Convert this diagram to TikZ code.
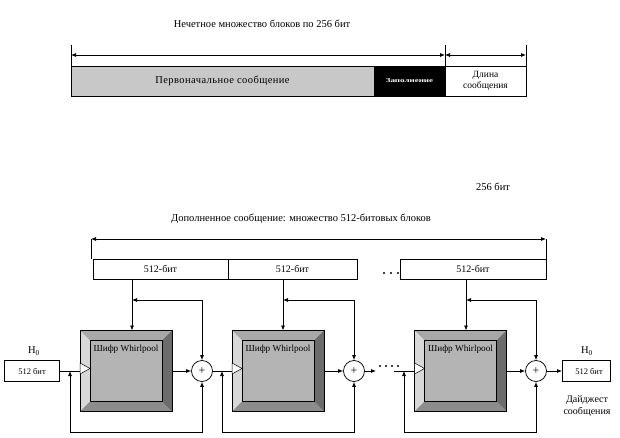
\documentclass[tikz,border=0pt]{standalone}
\usepackage{fontspec}
\setmainfont{Liberation Serif}
\usetikzlibrary{arrows.meta,calc}
\definecolor{barg}{RGB}{200,200,200}
\definecolor{wpface}{RGB}{180,180,180}
\definecolor{wptop}{RGB}{168,168,168}
\definecolor{wpleft}{RGB}{216,216,216}
\definecolor{wpright}{RGB}{108,108,108}
\definecolor{wpbot}{RGB}{140,140,140}
\newcommand\wpunit[3]{%
  \node[wp] (#1) at (#2,#3) {};
  \fill[wptop] (#1.north west) -- (#1.north east) -- ($(#1.north east)+(-10,10)$) -- ($(#1.north west)+(10,10)$) -- cycle;
  \fill[wpleft] (#1.north west) -- ($(#1.north west)+(10,10)$) -- ($(#1.south west)+(10,-10)$) -- (#1.south west) -- cycle;
  \fill[wpright] (#1.north east) -- ($(#1.north east)+(-10,10)$) -- ($(#1.south east)+(-10,-10)$) -- (#1.south east) -- cycle;
  \fill[wpbot] (#1.south west) -- ($(#1.south west)+(10,-10)$) -- ($(#1.south east)+(-10,-10)$) -- (#1.south east) -- cycle;
  \draw[line width=0.6pt] ($(#1.north west)+(10,10)$) rectangle ($(#1.south east)+(-10,-10)$);
  \draw[line width=0.8pt] (#1.north west) rectangle (#1.south east);
  \node[wplbl] (#1lbl) at ($(#1.north)+(0,19)$) {Шифр Whirlpool};
  \draw[fill=white, line width=0.5pt] ($(#1.west)+(0,-8)$) -- ($(#1.west)+(10,-2.5)$) -- ($(#1.west)+(0,3)$) -- cycle;
}
\begin{document}
\begin{tikzpicture}[x=1pt,y=-1pt, line width=0.75pt,
  tip/.tip={Latex[length=5pt,width=4pt]},
  arr/.style={-tip},
  dim/.style={tip-tip},
  lbl/.style={inner sep=0, font=\fontsize{10.5}{12}\selectfont},
  bar/.style={draw, minimum height=30, inner sep=0, outer sep=0, font=\fontsize{10.5}{12}\selectfont},
  blk/.style={draw, fill=white, minimum height=20, inner sep=0, outer sep=0, font=\fontsize{10}{11}\selectfont},
  hbox/.style={draw, fill=white, minimum width=55, minimum height=21, inner sep=0, outer sep=0, font=\fontsize{8.5}{10}\selectfont},
  xor/.style={circle, draw, fill=white, minimum size=21, inner sep=0, font=\fontsize{12}{12}\selectfont},
  wp/.style={fill=wpface, minimum width=92, minimum height=81, inner sep=0, outer sep=0},
  wplbl/.style={inner sep=0, font=\fontsize{9.2}{10}\selectfont},
]
\useasboundingbox (0,0) rectangle (620,438);
% ---------- top ----------
\node[lbl] (t1) at (262,24) {Нечетное множество блоков по 256 бит};
\node[bar, fill=barg, minimum width=303, anchor=north west] (orig) at (71,66) {\addfontfeature{LetterSpace=4}Первоначальное сообщение};
\node[bar, fill=black, text=white, minimum width=71, anchor=north west] (pad) at (orig.north east) {\scalebox{1.5}[1]{\fontsize{6}{7}\selectfont\bfseries Заполнение}};
\node[bar, fill=white, minimum width=81, anchor=north west, align=center, font=\fontsize{9.5}{11}\selectfont] (len) at (pad.north east) {Длина\\сообщения};
\coordinate (k1) at (71,45); \coordinate (k2) at (445,45); \coordinate (k3) at (526,45);
\coordinate (a1) at (71,55); \coordinate (a2) at (445,55); \coordinate (a3) at (526,55);
\draw (k1) -- (orig.north west);
\draw (k2) -- (pad.north east);
\draw (k3) -- (len.north east);
\draw[dim] (a1) -- (a2);
\draw[dim] (a2) -- (a3);
\node[lbl] (b256) at (493,187) {256 бит};
% ---------- bottom ----------
\node[lbl] (t2) at (301,219) {Дополненное сообщение: множество 512-битовых блоков};
\node[blk, minimum width=135, anchor=north west] (m1) at (93,259) {512-бит};
\node[blk, minimum width=129, anchor=north west] (m2) at (m1.north east) {512-бит};
\node[blk, minimum width=146, anchor=north west] (m3) at (400,259) {512-бит};
\foreach \xx in {384,391,398} \fill (\xx,273) circle (1.2);
\coordinate (p1) at (91,239); \coordinate (p1b) at (91,259);
\coordinate (p2) at (546,239);
\draw (p1) -- (p1b);
\draw (p2) -- (m3.north east);
\draw[dim] (p1) -- (p2);
% units
\wpunit{w1}{126}{371}
\wpunit{w2}{278}{371}
\wpunit{w3}{460.5}{371}
\node[xor] (x1) at (202,371) {+};
\node[xor] (x2) at (354,371) {+};
\node[xor] (x3) at (536,371) {+};
% H0 boxes
\node[hbox] (h0) at (32,371) {512 бит};
\node[lbl] (h0l) at (34,351) {H\textsubscript{0}};
\node[hbox, minimum width=48] (hN) at (586,371) {\hspace{6pt}512 бит};
\node[lbl] (hNl) at (587,351) {H\textsubscript{0}};
\node[lbl, align=center, font=\fontsize{10}{12}\selectfont] (dig) at (587,406) {Дайджест\\сообщения};
% main chain
\draw (h0.east) -- (w1.west);
\draw[arr] (w1.east) -- (x1.west);
\draw (x1.east) -- (w2.west);
\draw[arr] (w2.east) -- (x2.west);
\coordinate (d1) at (376,371);
\draw[arr] (x2.east) -- (d1);
\foreach \xx in {380,386,392,398} \fill (\xx,366) circle (1.2);
\coordinate (d2) at (394,371);
\draw (d2) -- (w3.west);
\draw[arr] (w3.east) -- (x3.west);
\draw[arr] (x3.east) -- (hN.west);
% feeds from message blocks
\coordinate (f1) at (132,300); \coordinate (f2) at (283,300); \coordinate (f3) at (466,300);
\draw[arr] (m1.south -| f1) -- (w1.north -| f1);
\draw[arr] (m2.south -| f2) -- (w2.north -| f2);
\draw[arr] (m3.south -| f3) -- (w3.north -| f3);
\draw[dim] (f1) -- (x1.north |- f1) -- (x1.north);
\draw[dim] (f2) -- (x2.north |- f2) -- (x2.north);
\draw[dim] (f3) -- (x3.north |- f3) -- (x3.north);
% feedback taps
\coordinate (t1) at (70,371); \coordinate (u1) at (70,432); \coordinate (v1) at (202,432);
\coordinate (t2) at (222,371); \coordinate (u2) at (222,432); \coordinate (v2) at (354,432);
\coordinate (t3) at (404,371); \coordinate (u3) at (404,432); \coordinate (v3) at (536,432);
\draw[dim] (t1) -- (u1) -- (v1) -- (x1.south);
\draw[dim] (t2) -- (u2) -- (v2) -- (x2.south);
\draw[dim] (t3) -- (u3) -- (v3) -- (x3.south);
\end{tikzpicture}
\end{document}
